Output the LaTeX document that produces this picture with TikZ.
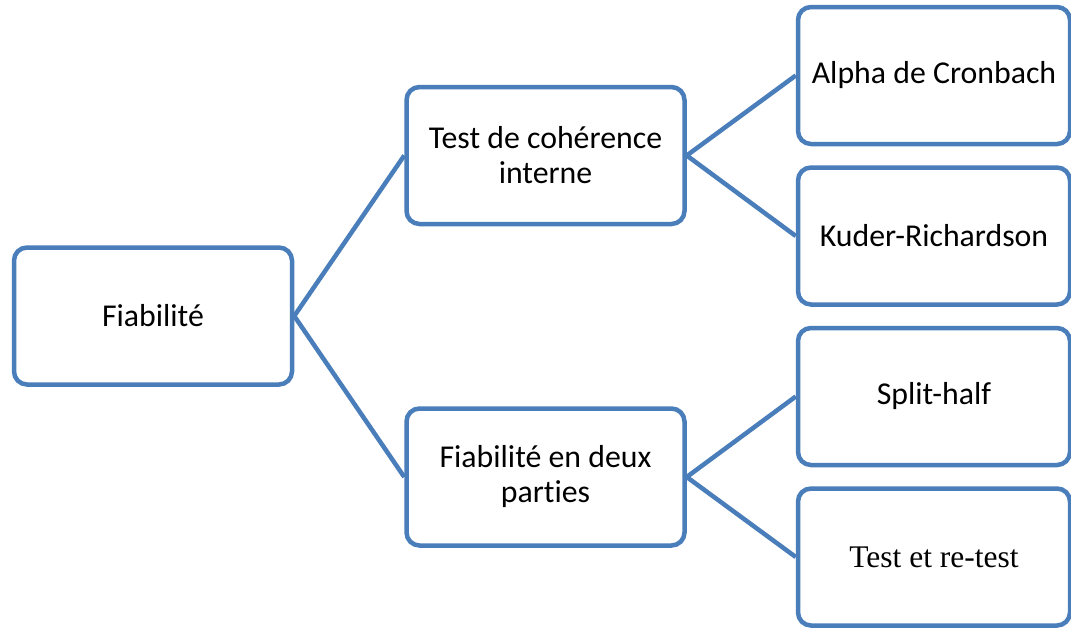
\documentclass[tikz,border=0pt]{standalone}
\usepackage{fontspec}
\setmainfont{Carlito}[Ligatures={NoCommon}]
\newfontfamily\timesfont{Liberation Serif}
\definecolor{boxblue}{RGB}{74,126,187}
\tikzset{
  box/.style={draw=boxblue, line width=4.5pt, rounded corners=13pt, fill=white,
    minimum width=278pt, minimum height=137pt, align=center, inner sep=0pt,
    font=\fontsize{31.8pt}{35pt}\selectfont},
  leafbox/.style={box, minimum width=272pt},
  link/.style={draw=boxblue, line width=4.5pt}
}
\begin{document}
\begin{tikzpicture}[x=1pt,y=-1pt]
\useasboundingbox[fill=white] (0,0) rectangle (1071,630);
\node[box] (fia) at (153,316) {Fiabilit\'e};
\node[box] (coh) at (545.5,155.5) {Test de coh\'erence\\interne};
\node[box] (deux) at (545.5,477) {Fiabilit\'e en deux\\parties};
\node[leafbox] (alpha) at (934,75.5) {Alpha de Cronbach};
\node[leafbox] (kuder) at (934,236) {Kuder-Richardson};
\node[leafbox] (split) at (934,396.5) {Split-half};
\node[leafbox, font=\timesfont\fontsize{31.5pt}{35pt}\selectfont] (retest) at (934,557) {Test et re-test};
\draw[link] (fia.east) -- (coh.west);
\draw[link] (fia.east) -- (deux.west);
\draw[link] (coh.east) -- (alpha.west);
\draw[link] (coh.east) -- (kuder.west);
\draw[link] (deux.east) -- (split.west);
\draw[link] (deux.east) -- (retest.west);
\end{tikzpicture}
\end{document}
